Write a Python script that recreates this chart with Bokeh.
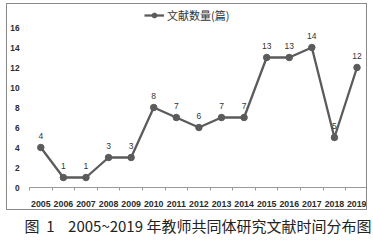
from bokeh.plotting import figure
from bokeh.layouts import column
from bokeh.models import (ColumnDataSource, Range1d, FixedTicker,
                          Legend, LegendItem, Title, LabelSet)
from bokeh.core.properties import value
from bokeh.embed import file_html
from bokeh.resources import INLINE

years = [2005, 2006, 2007, 2008, 2009, 2010, 2011, 2012, 2013, 2014, 2015, 2016, 2017, 2018, 2019]
counts = [4, 1, 1, 3, 3, 8, 7, 6, 7, 7, 13, 13, 14, 5, 12]
y_ticks = [0, 2, 4, 6, 8, 10, 12, 14, 16]
series_name = "文献数量(篇)"
caption = "图\u00a0\u00a01\u00a0\u00a0\u00a0\u00a02005~2019\u00a0年教师共同体研究文献时间分布图"

src = ColumnDataSource(dict(x=years, y=counts, label=[str(c) for c in counts]))

chart = figure(width=359, height=205, output_backend="svg", toolbar_location=None,
               x_range=Range1d(years[0] - 0.5, years[-1] + 0.42), y_range=Range1d(0, 18.3),
               min_border_left=21, min_border_right=0, min_border_top=0, min_border_bottom=22,
               margin=(4, 0, 0, 7), styles={"outline": "1px solid #8a8a8a"})
chart.outline_line_color = None
chart.xgrid.grid_line_color = None
chart.ygrid.grid_line_color = None
chart.background_fill_color = "white"
chart.border_fill_color = "white"

line_color = "#5b5b5b"
lr = chart.line("x", "y", source=src, line_color=line_color, line_width=2.3)
sr = chart.scatter("x", "y", source=src, size=6.5, fill_color=line_color, line_color=line_color)

labels = LabelSet(x="x", y="y", text="label", source=src, y_offset=12,
                  text_align="center", text_baseline="middle",
                  text_font=value("Liberation Sans"), text_font_size="8.5px",
                  text_color="#333333")
chart.add_layout(labels)

# x axis
xa = chart.xaxis[0]
xa.ticker = FixedTicker(ticks=years, minor_ticks=[y + 0.5 for y in [years[0] - 1] + years])
xa.major_tick_line_color = None
xa.major_tick_out = 0
xa.major_tick_in = 0
xa.minor_tick_out = 3
xa.minor_tick_in = 0
xa.minor_tick_line_color = "#999999"
xa.axis_line_color = "#999999"
xa.major_label_standoff = 10
xa.major_label_text_font = "Liberation Sans"
xa.major_label_text_font_size = "8.8px"
xa.major_label_text_font_style = "bold"
xa.major_label_text_color = "#2b2b2b"

# y axis
ya = chart.yaxis[0]
ya.ticker = FixedTicker(ticks=y_ticks)
ya.axis_line_color = None
ya.major_tick_line_color = None
ya.minor_tick_line_color = None
ya.major_tick_out = 0
ya.major_tick_in = 0
ya.major_label_standoff = 10
ya.major_label_text_font = "Liberation Sans"
ya.major_label_text_font_size = "8.3px"
ya.major_label_text_font_style = "bold"
ya.major_label_text_color = "#2b2b2b"

legend = Legend(items=[LegendItem(label=series_name, renderers=[lr, sr])],
                location=(115, 164), orientation="horizontal",
                border_line_color=None, background_fill_alpha=0,
                padding=4, margin=0, glyph_width=20, glyph_height=12,
                label_height=12, label_standoff=3,
                label_text_font="Noto Sans CJK SC", label_text_font_size="11px",
                label_text_color="#333333")
chart.add_layout(legend)

# caption strip below the boxed chart
cap = figure(width=373, height=27, output_backend="svg", toolbar_location=None,
             x_axis_location=None, y_axis_location=None, margin=(4, 0, 0, 0),
             min_border_left=0, min_border_right=0, min_border_top=25, min_border_bottom=2)
cap.outline_line_color = None
cap.xgrid.grid_line_color = None
cap.ygrid.grid_line_color = None
cap.border_fill_color = "white"
t = Title(text=caption, align="center", vertical_align="bottom", offset=4, standoff=5,
          text_font="Noto Sans CJK SC",
          text_font_size="15px", text_font_style="normal", text_color="#222222")
cap.add_layout(t, "above")

layout = column(chart, cap, spacing=0)
open("out.html", "w").write(file_html(layout, INLINE))
